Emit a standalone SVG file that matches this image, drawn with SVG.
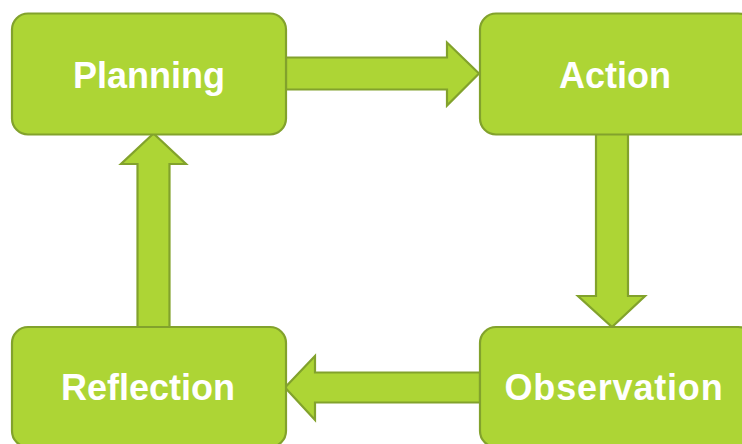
<svg xmlns="http://www.w3.org/2000/svg" width="742" height="444" viewBox="0 0 742 444">
<style>
.box{fill:#ADD535;stroke:#82A22C;stroke-width:2.2}
.arr{fill:#ADD535;stroke:#82A22C;stroke-width:2.2;stroke-linejoin:miter}
.lbl{font-family:"Liberation Sans",Arial,sans-serif;font-weight:bold;font-size:36px;fill:#FFFFFF;text-anchor:middle}
</style>
<rect width="742" height="444" fill="#FFFFFF"/>
<g id="connectors">
<polygon class="arr" points="286,57.5 447,57.5 447,42.5 479,73.5 447,105.5 447,89.5 286,89.5"/>
<polygon class="arr" points="596,134 628,134 628,296 645,296 612,327 578,296 596,296"/>
<polygon class="arr" points="480,372.5 315,372.5 315,356 285,387.5 315,420 315,402.5 480,402.5"/>
<polygon class="arr" points="137.5,327 169.5,327 169.5,164 186,164 153.5,133.5 121,164 137.5,164"/>
</g>
<g id="planning">
<rect class="box" x="12" y="13.5" width="274" height="121" rx="16"/>
<text class="lbl" x="149" y="88">Planning</text>
</g>
<g id="action">
<rect class="box" x="480" y="13.5" width="274" height="121" rx="16"/>
<text class="lbl" x="615" y="88">Action</text>
</g>
<g id="observation">
<rect class="box" x="480" y="327" width="274" height="120" rx="16"/>
<text class="lbl" x="614" y="400" letter-spacing="0.8">Observation</text>
</g>
<g id="reflection">
<rect class="box" x="12" y="327" width="274" height="120" rx="16"/>
<text class="lbl" x="148" y="400">Reflection</text>
</g>
</svg>
